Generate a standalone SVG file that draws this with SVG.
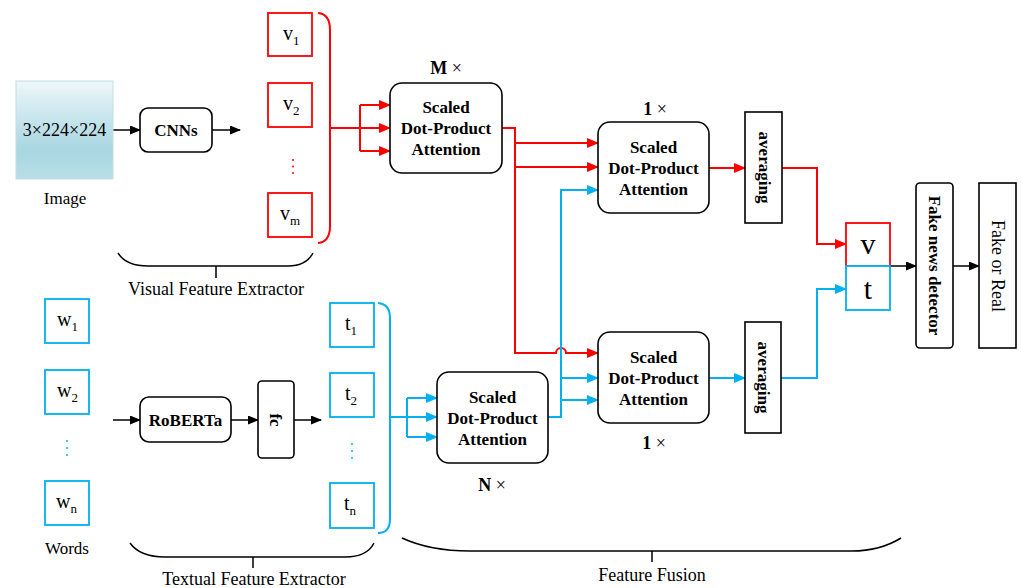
<svg xmlns="http://www.w3.org/2000/svg" width="1022" height="588" viewBox="0 0 1022 588">
<style>
text{font-family:"Liberation Serif","Times New Roman",serif;fill:#000}
.b{font-weight:bold;font-size:17px}
.r{font-size:17px}
.lab{font-size:18px}
.mul{font-size:18px}
.box{fill:#fff;stroke:#000;stroke-width:1.6}
.vb{fill:#fff;stroke:#ff0000;stroke-width:1.8}
.tb{fill:#fff;stroke:#00b0f0;stroke-width:1.8}
.lr{fill:none;stroke:#ff0000;stroke-width:2}
.lb{fill:none;stroke:#00b0f0;stroke-width:2}
.lk{fill:none;stroke:#000;stroke-width:1.5}
.v{font-size:20px}
.sub{font-size:13px}
</style>
<defs>
<linearGradient id="img" x1="0" y1="0" x2="0" y2="1">
<stop offset="0" stop-color="#eef7fa"/>
<stop offset="0.7" stop-color="#a8d6e1"/>
<stop offset="1" stop-color="#b8dee7"/>
</linearGradient>
<marker id="ar" markerWidth="12" markerHeight="10" refX="11" refY="5" orient="auto" markerUnits="userSpaceOnUse"><path d="M0,0 L12,5 L0,10 Z" fill="#ff0000"/></marker>
<marker id="ab" markerWidth="12" markerHeight="10" refX="11" refY="5" orient="auto" markerUnits="userSpaceOnUse"><path d="M0,0 L12,5 L0,10 Z" fill="#00b0f0"/></marker>
<marker id="ak" markerWidth="11" markerHeight="9" refX="10" refY="4.5" orient="auto" markerUnits="userSpaceOnUse"><path d="M0,0 L11,4.5 L0,9 Z" fill="#000"/></marker>
</defs>

<g id="connectors">
<path class="lk" d="M113,130 L140,130" marker-end="url(#ak)"/>
<path class="lk" d="M212,130 L240,130" marker-end="url(#ak)"/>
<path class="lk" d="M113,420 L140,420" marker-end="url(#ak)"/>
<path class="lk" d="M231,420 L258,420" marker-end="url(#ak)"/>
<path class="lk" d="M294,420 L321,420" marker-end="url(#ak)"/>
<path class="lk" d="M890,266 L916,266" marker-end="url(#ak)"/>
<path class="lk" d="M953,266 L979,266" marker-end="url(#ak)"/>
<path class="lr" d="M318,13 Q330,14 330,30 L330,226 Q330,242 318,243"/>
<path class="lr" d="M330,128 L360,128"/>
<path class="lr" d="M360,105 L360,151"/>
<path class="lr" d="M360,105 L390,105" marker-end="url(#ar)"/>
<path class="lr" d="M360,128 L390,128" marker-end="url(#ar)"/>
<path class="lr" d="M360,151 L390,151" marker-end="url(#ar)"/>
<path class="lr" d="M502,128 L515,128 L515,353 L556,353 A5,5 0 0 1 566,353 L598,353" marker-end="url(#ar)"/>
<path class="lr" d="M515,143 L598,143" marker-end="url(#ar)"/>
<path class="lr" d="M515,167 L598,167" marker-end="url(#ar)"/>
<path class="lr" d="M709,168 L745,168" marker-end="url(#ar)"/>
<path class="lr" d="M782,168 L817,168 L817,244 L846,244" marker-end="url(#ar)"/>
<path class="lb" d="M378,303 Q390,304 390,318 L390,519 Q390,533 378,533"/>
<path class="lb" d="M390,417 L407,417"/>
<path class="lb" d="M407,398 L407,437"/>
<path class="lb" d="M407,398 L437,398" marker-end="url(#ab)"/>
<path class="lb" d="M407,417 L437,417" marker-end="url(#ab)"/>
<path class="lb" d="M407,437 L437,437" marker-end="url(#ab)"/>
<path class="lb" d="M548,417 L561,417 L561,190 L598,190" marker-end="url(#ab)"/>
<path class="lb" d="M561,378 L598,378" marker-end="url(#ab)"/>
<path class="lb" d="M561,400 L598,400" marker-end="url(#ab)"/>
<path class="lb" d="M709,378 L745,378" marker-end="url(#ab)"/>
<path class="lb" d="M781,378 L817,378 L817,289 L846,289" marker-end="url(#ab)"/>
<path class="lk" d="M118,253 Q126,266 148,266 L288,266 Q306,266 313,253 M216,266 L216,278"/>
<path class="lk" d="M130,543 Q140,557 165,557 L345,557 Q367,557 374,543 M253,557 L253,568"/>
<path class="lk" d="M402,538 Q430,551 470,551 L852,551 Q880,551 901,538 M652,551 L652,562"/>
</g>

<g id="image">
<rect x="16" y="81" width="97" height="98" fill="url(#img)" stroke="#c3dde2" stroke-width="1"/>
<text x="64.5" y="136" font-size="18" text-anchor="middle">3×224×224</text>
<text x="65" y="204" class="r" text-anchor="middle">Image</text>
</g>

<g id="cnns">
<rect class="box" x="140" y="108" width="72" height="44" rx="8"/>
<text x="176" y="136" class="b" text-anchor="middle">CNNs</text>
</g>

<g id="v1"><rect class="vb" x="268" y="13" width="44" height="43"/><text x="283" y="40" class="v">v<tspan class="sub" dy="5">1</tspan></text></g>
<g id="v2"><rect class="vb" x="268" y="83" width="44" height="44"/><text x="283" y="110" class="v">v<tspan class="sub" dy="5">2</tspan></text></g>
<g id="vdots"><circle cx="293" cy="160" r="1" fill="#ff0000"/><circle cx="293" cy="166.5" r="1" fill="#ff0000"/><circle cx="293" cy="173" r="1" fill="#ff0000"/></g>
<g id="vm"><rect class="vb" x="268" y="193" width="44" height="44"/><text x="280" y="220" class="v">v<tspan class="sub" dy="5">m</tspan></text></g>

<g id="w1"><rect class="tb" x="45" y="299" width="44" height="44"/><text x="57" y="326" class="v">w<tspan class="sub" dy="5">1</tspan></text></g>
<g id="w2"><rect class="tb" x="45" y="370" width="44" height="44"/><text x="57" y="397" class="v">w<tspan class="sub" dy="5">2</tspan></text></g>
<g id="wdots"><circle cx="67" cy="441" r="1" fill="#00b0f0"/><circle cx="67" cy="448" r="1" fill="#00b0f0"/><circle cx="67" cy="455" r="1" fill="#00b0f0"/></g>
<g id="wn"><rect class="tb" x="45" y="481" width="44" height="44"/><text x="56" y="508" class="v">w<tspan class="sub" dy="5">n</tspan></text></g>
<text x="67" y="554" class="r" text-anchor="middle">Words</text>

<g id="roberta">
<rect class="box" x="140" y="397" width="91" height="45" rx="9"/>
<text x="185.5" y="426" class="b" text-anchor="middle">RoBERTa</text>
</g>
<g id="fc">
<rect class="box" x="258" y="381" width="36" height="77" rx="4"/>
<text transform="translate(276,420) rotate(90)" x="0" y="6" class="b" text-anchor="middle">fc</text>
</g>

<g id="t1"><rect class="tb" x="330" y="303" width="44" height="44"/><text x="345" y="330" class="v">t<tspan class="sub" dy="5">1</tspan></text></g>
<g id="t2"><rect class="tb" x="330" y="373" width="44" height="44"/><text x="345" y="400" class="v">t<tspan class="sub" dy="5">2</tspan></text></g>
<g id="tdots"><circle cx="352" cy="444" r="1" fill="#00b0f0"/><circle cx="352" cy="451" r="1" fill="#00b0f0"/><circle cx="352" cy="458" r="1" fill="#00b0f0"/></g>
<g id="tn"><rect class="tb" x="330" y="483" width="44" height="45"/><text x="344" y="510" class="v">t<tspan class="sub" dy="5">n</tspan></text></g>

<g id="attnM">
<rect class="box" x="390" y="83" width="112" height="90" rx="12"/>
<text x="446" y="113" class="b" text-anchor="middle">Scaled</text>
<text x="446" y="134" class="b" text-anchor="middle">Dot-Product</text>
<text x="446" y="155" class="b" text-anchor="middle">Attention</text>
<text x="446" y="74" class="mul" text-anchor="middle"><tspan font-weight="bold">M</tspan> ×</text>
</g>

<g id="attnV">
<rect class="box" x="598" y="122" width="111" height="91" rx="12"/>
<text x="653.5" y="153" class="b" text-anchor="middle">Scaled</text>
<text x="653.5" y="174" class="b" text-anchor="middle">Dot-Product</text>
<text x="653.5" y="195" class="b" text-anchor="middle">Attention</text>
<text x="655" y="115" class="mul" text-anchor="middle"><tspan font-weight="bold">1</tspan> ×</text>
</g>

<g id="attnT">
<rect class="box" x="598" y="332" width="111" height="91" rx="12"/>
<text x="653.5" y="363" class="b" text-anchor="middle">Scaled</text>
<text x="653.5" y="384" class="b" text-anchor="middle">Dot-Product</text>
<text x="653.5" y="405" class="b" text-anchor="middle">Attention</text>
<text x="654" y="449" class="mul" text-anchor="middle"><tspan font-weight="bold">1</tspan> ×</text>
</g>

<g id="attnN">
<rect class="box" x="437" y="372" width="111" height="91" rx="12"/>
<text x="492.5" y="403" class="b" text-anchor="middle">Scaled</text>
<text x="492.5" y="424" class="b" text-anchor="middle">Dot-Product</text>
<text x="492.5" y="445" class="b" text-anchor="middle">Attention</text>
<text x="492" y="491" class="mul" text-anchor="middle"><tspan font-weight="bold">N</tspan> ×</text>
</g>

<g id="avgV">
<rect class="box" x="745" y="112" width="37" height="111"/>
<text transform="translate(763.5,167.5) rotate(90)" x="0" y="5" class="b" text-anchor="middle">averaging</text>
</g>
<g id="avgT">
<rect class="box" x="745" y="322" width="36" height="111"/>
<text transform="translate(763,377.5) rotate(90)" x="0" y="5" class="b" text-anchor="middle">averaging</text>
</g>

<g id="vt">
<rect class="vb" x="846" y="223" width="44" height="43"/>
<rect class="tb" x="846" y="266" width="44" height="44"/>
<text x="868" y="254" font-size="30" text-anchor="middle">v</text>
<text x="868" y="299" font-size="30" text-anchor="middle">t</text>
</g>

<g id="detector">
<rect class="box" x="916" y="183" width="37" height="165" rx="4"/>
<text transform="translate(934.5,265.5) rotate(90)" x="0" y="6" class="b" text-anchor="middle">Fake news detector</text>
</g>

<g id="output">
<rect class="box" x="979" y="183" width="37" height="165"/>
<text transform="translate(997.5,266) rotate(90)" x="0" y="6" font-size="18" text-anchor="middle">Fake or Real</text>
</g>

<g id="labels">
<text x="216" y="295" class="lab" text-anchor="middle">Visual Feature Extractor</text>
<text x="254" y="585" class="lab" text-anchor="middle">Textual Feature Extractor</text>
<text x="652" y="581" class="lab" text-anchor="middle">Feature Fusion</text>
</g>
</svg>
